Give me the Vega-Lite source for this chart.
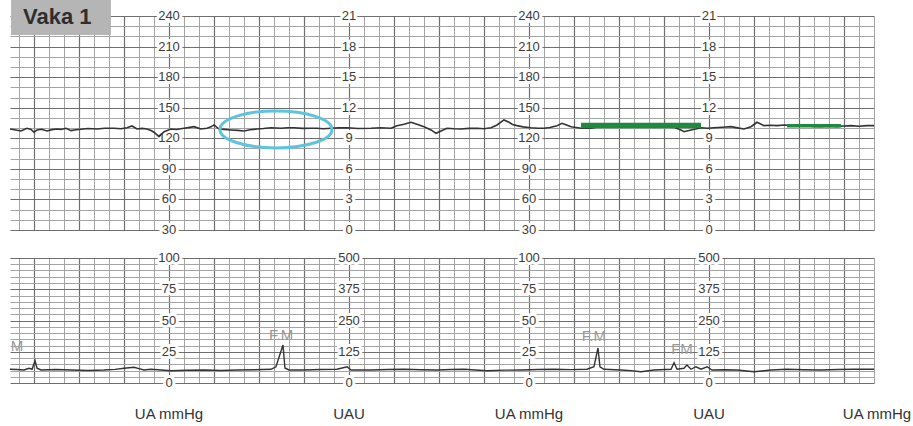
{
  "$schema": "https://vega.github.io/schema/vega-lite/v6.json",
  "padding": {"left": 6, "top": 0, "right": 0, "bottom": 0},
  "background": "white",
  "config": {"view": {"stroke": null}, "axis": {"labels": false, "ticks": false, "domain": false, "title": null}},
  "bounds": "flush",
  "spacing": 28,
  "datasets": {
    "fhr": [
      {"t":14,"bpm":129.1},{"t":17,"bpm":128.4},{"t":21.3,"bpm":127.2},{"t":25.3,"bpm":129.8},{"t":28,"bpm":128.6},{"t":30,"bpm":125.9},{"t":32,"bpm":128.2},{"t":35,"bpm":128.9},{"t":38.7,"bpm":127.2},{"t":42,"bpm":128.5},{"t":45.3,"bpm":129.1},{"t":48,"bpm":128.7},{"t":51.3,"bpm":129.8},{"t":54.7,"bpm":127.5},{"t":58,"bpm":128.4},{"t":61.3,"bpm":128.9},{"t":66,"bpm":129.6},{"t":72,"bpm":129.1},{"t":77,"bpm":129.9},{"t":83.3,"bpm":129.8},{"t":88,"bpm":129.3},{"t":92,"bpm":130.4},{"t":95.3,"bpm":132.1},{"t":98.7,"bpm":129.1},{"t":102,"bpm":129.7},{"t":105.3,"bpm":129.1},{"t":108,"bpm":127.6},{"t":110,"bpm":125.9},{"t":113.3,"bpm":121.6},{"t":116.7,"bpm":126.5},{"t":121.3,"bpm":129.1},{"t":125,"bpm":128.6},{"t":130,"bpm":129.8},{"t":133,"bpm":130.5},{"t":136.7,"bpm":131.4},{"t":141.3,"bpm":129.1},{"t":145.3,"bpm":129.8},{"t":148,"bpm":131.2},{"t":150,"bpm":133.1},{"t":153.3,"bpm":129.1},{"t":157,"bpm":128.7},{"t":161.3,"bpm":128.2},{"t":166,"bpm":127.8},{"t":170,"bpm":127.2},{"t":174,"bpm":128.3},{"t":178.7,"bpm":129.1},{"t":183,"bpm":129.6},{"t":188,"bpm":130.4},{"t":194.7,"bpm":129.8},{"t":199,"bpm":130.3},{"t":203.3,"bpm":130.4},{"t":209,"bpm":129.7},{"t":214.7,"bpm":129.8},{"t":218.7,"bpm":129.8},{"t":223,"bpm":129.3},{"t":228,"bpm":129.8},{"t":233,"bpm":130.2},{"t":238.7,"bpm":130.4},{"t":246,"bpm":129.6},{"t":254.7,"bpm":129.8},{"t":261,"bpm":130.3},{"t":268,"bpm":129.8},{"t":272,"bpm":132.4},{"t":276.7,"bpm":133.8},{"t":281.3,"bpm":135.7},{"t":285.3,"bpm":133.8},{"t":290,"bpm":131.4},{"t":294.7,"bpm":128.2},{"t":298,"bpm":124.9},{"t":301.3,"bpm":127.2},{"t":305.3,"bpm":129.8},{"t":310,"bpm":129.3},{"t":314.7,"bpm":129.1},{"t":320,"bpm":129.7},{"t":325.3,"bpm":129.8},{"t":330,"bpm":129.4},{"t":334.7,"bpm":130.4},{"t":338.7,"bpm":133.1},{"t":343.3,"bpm":138.0},{"t":346.7,"bpm":135.7},{"t":349,"bpm":133.5},{"t":352,"bpm":132.4},{"t":356,"bpm":131.2},{"t":361.3,"bpm":130.4},{"t":366,"bpm":129.9},{"t":370,"bpm":129.8},{"t":374,"bpm":130.5},{"t":378.7,"bpm":132.4},{"t":382,"bpm":134.7},{"t":385,"bpm":133.0},{"t":388,"bpm":131.4},{"t":394.7,"bpm":129.8},{"t":401.3,"bpm":129.8},{"t":410,"bpm":132.1},{"t":420,"bpm":132.4},{"t":430,"bpm":132.1},{"t":440,"bpm":132.3},{"t":450,"bpm":132.1},{"t":456,"bpm":131.0},{"t":461.3,"bpm":128.2},{"t":463.3,"bpm":126.5},{"t":468,"bpm":128.2},{"t":474.7,"bpm":130.4},{"t":479,"bpm":129.9},{"t":483.3,"bpm":130.4},{"t":489,"bpm":130.9},{"t":494.7,"bpm":131.4},{"t":499,"bpm":130.2},{"t":503.3,"bpm":129.1},{"t":508,"bpm":131.4},{"t":512,"bpm":135.7},{"t":516.7,"bpm":132.4},{"t":521,"bpm":132.8},{"t":525.3,"bpm":132.4},{"t":530,"bpm":133.1},{"t":536,"bpm":132.6},{"t":543.3,"bpm":132.4},{"t":549,"bpm":131.7},{"t":554.7,"bpm":131.4},{"t":560,"bpm":131.9},{"t":565.3,"bpm":131.4},{"t":570,"bpm":132.0},{"t":574.7,"bpm":132.4},{"t":580,"bpm":131.8},{"t":585.3,"bpm":132.4},{"t":590,"bpm":132.4}
    ],
    "green": [
      {"seg":"a","t":394.7,"t2":474.7,"bpm":132.6},
      {"seg":"b","t":532,"t2":568,"bpm":132.4}
    ],
    "highlight": [{"t":191.3,"bpm":128.7}],
    "caseLabel": [{"t":14.7,"t2":81.3,"bpm":255.7,"bpm2":221.4,"label":"Vaka 1","tx":22.7,"by":232.2}],
    "topTicks": [
      {"t":120,"bpm":240,"label":"240"},{"t":120,"bpm":210,"label":"210"},{"t":120,"bpm":180,"label":"180"},{"t":120,"bpm":150,"label":"150"},{"t":120,"bpm":120,"label":"120"},{"t":120,"bpm":90,"label":"90"},{"t":120,"bpm":60,"label":"60"},{"t":120,"bpm":30,"label":"30"},
      {"t":360,"bpm":240,"label":"240"},{"t":360,"bpm":210,"label":"210"},{"t":360,"bpm":180,"label":"180"},{"t":360,"bpm":150,"label":"150"},{"t":360,"bpm":120,"label":"120"},{"t":360,"bpm":90,"label":"90"},{"t":360,"bpm":60,"label":"60"},{"t":360,"bpm":30,"label":"30"},
      {"t":240,"bpm":240,"label":"21"},{"t":240,"bpm":210,"label":"18"},{"t":240,"bpm":180,"label":"15"},{"t":240,"bpm":150,"label":"12"},{"t":240,"bpm":120,"label":"9"},{"t":240,"bpm":90,"label":"6"},{"t":240,"bpm":60,"label":"3"},{"t":240,"bpm":30,"label":"0"},
      {"t":480,"bpm":240,"label":"21"},{"t":480,"bpm":210,"label":"18"},{"t":480,"bpm":180,"label":"15"},{"t":480,"bpm":150,"label":"12"},{"t":480,"bpm":120,"label":"9"},{"t":480,"bpm":90,"label":"6"},{"t":480,"bpm":60,"label":"3"},{"t":480,"bpm":30,"label":"0"}
    ],
    "ua": [
      {"t":14,"v":11.0},{"t":18.7,"v":10.8},{"t":23.3,"v":10.4},{"t":26.7,"v":11.8},{"t":28.7,"v":11.0},{"t":30.7,"v":17.8},{"t":32,"v":11.8},{"t":34.7,"v":10.4},{"t":44.7,"v":10.8},{"t":54.7,"v":10.4},{"t":66,"v":10.0},{"t":76.7,"v":10.4},{"t":84,"v":10.9},{"t":90,"v":11.8},{"t":96.7,"v":12.6},{"t":100,"v":11.5},{"t":103.3,"v":10.4},{"t":108,"v":11.0},{"t":121.3,"v":9.8},{"t":132,"v":10.2},{"t":143.3,"v":10.4},{"t":155,"v":10.0},{"t":165.3,"v":10.4},{"t":177,"v":10.6},{"t":188,"v":11.0},{"t":191.3,"v":13.0},{"t":196,"v":30.4},{"t":197.3,"v":12.0},{"t":200,"v":10.4},{"t":210,"v":10.4},{"t":221,"v":10.8},{"t":232,"v":11.0},{"t":238.7,"v":13.0},{"t":241.3,"v":10.4},{"t":254.7,"v":10.4},{"t":266,"v":10.8},{"t":276.7,"v":11.0},{"t":288,"v":10.6},{"t":298.7,"v":10.4},{"t":308,"v":10.8},{"t":316.7,"v":11.0},{"t":332,"v":9.8},{"t":344,"v":10.3},{"t":354.7,"v":10.4},{"t":366,"v":10.8},{"t":376.7,"v":11.0},{"t":388,"v":10.7},{"t":398.7,"v":11.0},{"t":403.3,"v":13.0},{"t":406,"v":28.0},{"t":407.3,"v":13.0},{"t":410,"v":11.0},{"t":421.3,"v":10.4},{"t":428,"v":9.9},{"t":434.7,"v":9.0},{"t":443.3,"v":10.4},{"t":454.7,"v":11.0},{"t":456.7,"v":16.2},{"t":458.7,"v":11.0},{"t":463.3,"v":11.8},{"t":465.3,"v":14.4},{"t":468,"v":11.0},{"t":471.3,"v":13.0},{"t":474.7,"v":11.0},{"t":478.7,"v":13.0},{"t":482,"v":10.4},{"t":490,"v":10.6},{"t":498.7,"v":10.4},{"t":510,"v":9.0},{"t":521.3,"v":10.4},{"t":532,"v":11.0},{"t":543,"v":10.6},{"t":554.7,"v":10.4},{"t":566,"v":10.8},{"t":576.7,"v":11.0},{"t":590,"v":11.0}
    ],
    "bottomTicks": [
      {"t":120,"v":100,"label":"100"},{"t":120,"v":75,"label":"75"},{"t":120,"v":50,"label":"50"},{"t":120,"v":25,"label":"25"},{"t":120,"v":0,"label":"0"},
      {"t":360,"v":100,"label":"100"},{"t":360,"v":75,"label":"75"},{"t":360,"v":50,"label":"50"},{"t":360,"v":25,"label":"25"},{"t":360,"v":0,"label":"0"},
      {"t":240,"v":100,"label":"500"},{"t":240,"v":75,"label":"375"},{"t":240,"v":50,"label":"250"},{"t":240,"v":25,"label":"125"},{"t":240,"v":0,"label":"0"},
      {"t":480,"v":100,"label":"500"},{"t":480,"v":75,"label":"375"},{"t":480,"v":50,"label":"250"},{"t":480,"v":25,"label":"125"},{"t":480,"v":0,"label":"0"}
    ],
    "fm": [
      {"t":18.7,"v":29.6,"label":"M"},{"t":194.7,"v":38.4,"label":"F.M"},{"t":403.3,"v":38,"label":"F.M"},{"t":462,"v":27.2,"label":"FM"}
    ],
    "captions": [
      {"t":120,"v":-25,"label":"UA mmHg"},{"t":240,"v":-25,"label":"UAU"},{"t":360,"v":-25,"label":"UA mmHg"},{"t":480,"v":-25,"label":"UAU"},{"t":592,"v":-25,"label":"UA mmHg"}
    ]
  },
  "vconcat": [
    {
      "width": 864,
      "height": 214,
      "encoding": {
        "x": {"field": "t", "type": "quantitative", "scale": {"domain": [14, 590], "nice": false, "zero": false}, "axis": null},
        "y": {"field": "bpm", "type": "quantitative", "scale": {"domain": [30, 240], "nice": false, "zero": false}, "axis": null}
      },
      "resolve": {"axis": {"x": "independent", "y": "independent"}},
      "layer": [
        {
          "data": {"name": "caseLabel"},
          "mark": {"type": "rect", "color": "#b5b5b5"},
          "encoding": {
            "x2": {"field": "t2"},
            "y2": {"field": "bpm2"}
          }
        },
        {
          "data": {"name": "caseLabel"},
          "mark": {"type": "text", "font": "Liberation Sans", "fontSize": 22, "fontWeight": "bold", "color": "#2e2e2e", "align": "left", "baseline": "alphabetic"},
          "encoding": {
            "x": {"field": "tx", "type": "quantitative", "scale": {"domain": [14, 590], "nice": false, "zero": false}, "axis": null},
            "y": {"field": "by", "type": "quantitative", "scale": {"domain": [30, 240], "nice": false, "zero": false}, "axis": null},
            "text": {"field": "label"}
          }
        },
        {
          "data": {"name": "topTicks"},
          "mark": {"type": "text", "font": "Liberation Sans", "fontSize": 13, "fill": "white", "stroke": "white", "strokeWidth": 6, "strokeJoin": "round", "baseline": "middle"},
          "encoding": {"text": {"field": "label"}}
        },
        {
          "data": {"name": "topTicks"},
          "mark": {"type": "text", "font": "Liberation Sans", "fontSize": 13, "color": "#3c3c3c", "baseline": "middle"},
          "encoding": {"text": {"field": "label"}}
        },
        {
          "data": {"name": "fhr"},
          "mark": {"type": "line", "color": "#333333", "strokeWidth": 1.6},
          "encoding": {
            "x": {"field": "t", "type": "quantitative", "scale": {"domain": [14, 590], "nice": false, "zero": false},
                  "axis": {"orient": "bottom", "grid": true, "gridColor": "#a4a4a4", "gridWidth": 1, "values": [20,40,50,70,80,100,110,130,140,160,170,190,200,220,230,250,260,280,290,310,320,340,350,370,380,400,410,430,440,460,470,490,500,520,530,550,560,580,590]}},
            "y": {"field": "bpm", "type": "quantitative", "scale": {"domain": [30, 240], "nice": false, "zero": false},
                  "axis": {"orient": "left", "grid": true, "gridColor": "#a4a4a4", "gridWidth": 1, "values": [40,50,70,80,100,110,130,140,160,170,190,200,220,230]}}
          }
        },
        {
          "data": {"name": "green"},
          "transform": [{"filter": "datum.seg === 'a'"}],
          "mark": {"type": "rule", "color": "#1f8a3e", "strokeWidth": 5.5},
          "encoding": {
            "x": {"field": "t", "type": "quantitative", "scale": {"domain": [14, 590], "nice": false, "zero": false},
                  "axis": {"orient": "top", "grid": true, "gridColor": "#6e6e6e", "gridWidth": 1.2, "values": [30,60,90,120,150,180,210,240,270,300,330,360,390,420,450,480,510,540,570]}},
            "x2": {"field": "t2"},
            "y": {"field": "bpm", "type": "quantitative", "scale": {"domain": [30, 240], "nice": false, "zero": false},
                  "axis": {"orient": "right", "grid": true, "gridColor": "#6e6e6e", "gridWidth": 1.2, "values": [30,60,90,120,150,180,210,240]}}
          }
        },
        {
          "data": {"name": "green"},
          "transform": [{"filter": "datum.seg === 'b'"}],
          "mark": {"type": "rule", "color": "#1f8a3e", "strokeWidth": 3.5},
          "encoding": {"x2": {"field": "t2"}}
        },
        {
          "data": {"name": "highlight"},
          "mark": {"type": "point", "shape": "M-1,0A1,0.33,0,1,0,1,0A1,0.33,0,1,0,-1,0Z", "size": 12544, "filled": false, "stroke": "#5ec4dc", "strokeWidth": 3, "opacity": 1}
        }
      ]
    },
    {
      "width": 864,
      "height": 125,
      "encoding": {
        "x": {"field": "t", "type": "quantitative", "scale": {"domain": [14, 590], "nice": false, "zero": false}, "axis": null},
        "y": {"field": "v", "type": "quantitative", "scale": {"domain": [0, 100], "nice": false, "zero": false}, "axis": null}
      },
      "resolve": {"axis": {"x": "independent", "y": "independent"}},
      "layer": [
        {
          "data": {"name": "bottomTicks"},
          "mark": {"type": "text", "font": "Liberation Sans", "fontSize": 13, "fill": "white", "stroke": "white", "strokeWidth": 6, "strokeJoin": "round", "baseline": "middle"},
          "encoding": {"text": {"field": "label"}}
        },
        {
          "data": {"name": "bottomTicks"},
          "mark": {"type": "text", "font": "Liberation Sans", "fontSize": 13, "color": "#3c3c3c", "baseline": "middle"},
          "encoding": {"text": {"field": "label"}}
        },
        {
          "data": {"name": "ua"},
          "mark": {"type": "line", "color": "#333333", "strokeWidth": 1.4},
          "encoding": {
            "x": {"field": "t", "type": "quantitative", "scale": {"domain": [14, 590], "nice": false, "zero": false},
                  "axis": {"orient": "bottom", "grid": true, "gridColor": "#a4a4a4", "gridWidth": 1, "values": [20,40,50,70,80,100,110,130,140,160,170,190,200,220,230,250,260,280,290,310,320,340,350,370,380,400,410,430,440,460,470,490,500,520,530,550,560,580,590]}},
            "y": {"field": "v", "type": "quantitative", "scale": {"domain": [0, 100], "nice": false, "zero": false},
                  "axis": {"orient": "left", "grid": true, "gridColor": "#a4a4a4", "gridWidth": 1, "values": [5,10,15,20,30,35,40,45,55,60,65,70,80,85,90,95]}}
          }
        },
        {
          "data": {"name": "fm"},
          "mark": {"type": "text", "font": "Liberation Sans", "fontSize": 15, "color": "#999999", "baseline": "middle"},
          "encoding": {
            "x": {"field": "t", "type": "quantitative", "scale": {"domain": [14, 590], "nice": false, "zero": false},
                  "axis": {"orient": "top", "grid": true, "gridColor": "#6e6e6e", "gridWidth": 1.2, "values": [30,60,90,120,150,180,210,240,270,300,330,360,390,420,450,480,510,540,570]}},
            "y": {"field": "v", "type": "quantitative", "scale": {"domain": [0, 100], "nice": false, "zero": false},
                  "axis": {"orient": "right", "grid": true, "gridColor": "#6e6e6e", "gridWidth": 1.2, "values": [0,25,50,75,100]}},
            "text": {"field": "label"}
          }
        },
        {
          "data": {"name": "captions"},
          "mark": {"type": "text", "font": "Liberation Sans", "fontSize": 15, "color": "#333333", "baseline": "middle"},
          "encoding": {"text": {"field": "label"}}
        }
      ]
    }
  ]
}
